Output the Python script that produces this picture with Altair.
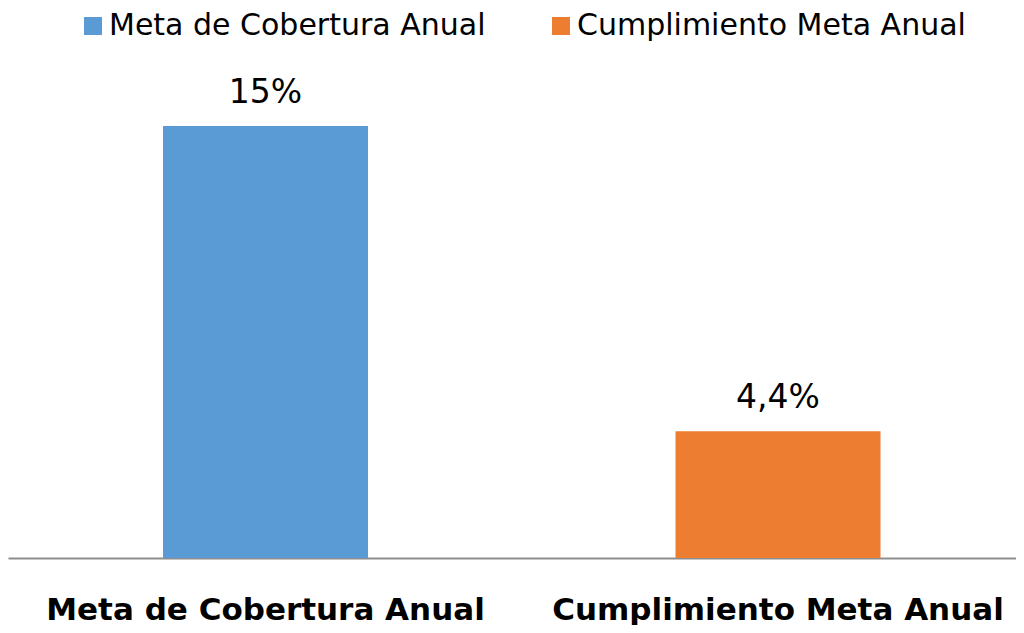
import altair as alt
import pandas as pd

categories = ["Meta de Cobertura Anual", "Cumplimiento Meta Anual"]
values = [15, 4.4]
value_labels = ["15%", "4,4%"]
colors = ["#5B9BD5", "#ED7D31"]

df = pd.DataFrame({"categoria": categories, "valor": values, "etiqueta": value_labels})

FONT = "DejaVu Sans"

x = alt.X(
    "categoria:N",
    sort=categories,
    scale=alt.Scale(paddingInner=0.6, paddingOuter=0.2834, align=0.5336),
    axis=alt.Axis(
        title=None,
        labelAngle=0,
        labelFont=FONT,
        labelFontWeight="bold",
        labelFontSize=31,
        labelColor="#000000",
        labelBaseline="alphabetic",
        labelPadding=61,
        ticks=False,
        tickSize=0,
        domainColor="#8e8e8e",
        domainWidth=2,
        grid=False,
        labelLimit=0,
        labelOverlap=False,
    ),
)
y = alt.Y("valor:Q", scale=alt.Scale(domain=[0, 19.1], nice=False, zero=True), axis=None)

bars = alt.Chart(df).mark_bar().encode(
    x=x,
    y=y,
    color=alt.Color(
        "categoria:N",
        scale=alt.Scale(domain=categories, range=colors),
        legend=alt.Legend(
            title=None,
            orient="none",
            legendX=70,
            legendY=3,
            direction="horizontal",
            symbolType="square",
            symbolSize=324,
            symbolStrokeWidth=0,
            labelFont=FONT,
            labelFontSize=30,
            labelColor="#000000",
            labelOffset=1,
            columnPadding=60,
            padding=0,
            labelLimit=0,
        ),
    ),
)

text = alt.Chart(df).mark_text(
    baseline="alphabetic", dy=-23, font=FONT, fontSize=33, color="#000000"
).encode(x=x, y=y, text="etiqueta:N")

chart = (
    alt.layer(bars, text)
    .properties(
        width=1008,
        height=550,
        autosize=alt.AutoSizeParams(type="none"),
        padding={"left": 0, "top": 0, "right": 0, "bottom": 67},
    )
    .configure_view(stroke=None)
)

chart.save("out.html", embed_options={"renderer": "svg", "actions": False})
